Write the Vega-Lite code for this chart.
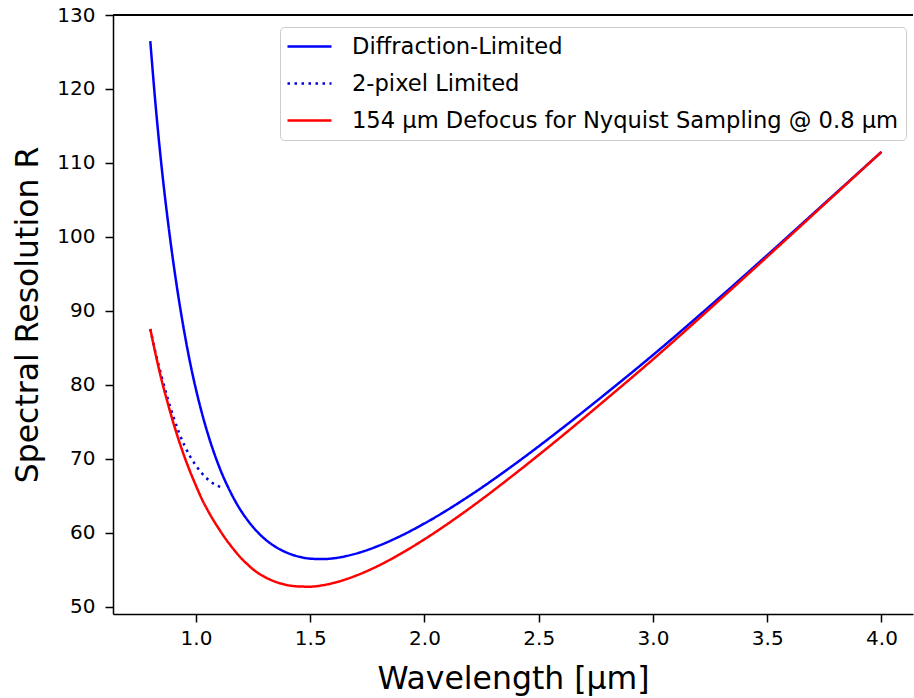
{
  "$schema": "https://vega.github.io/schema/vega-lite/v6.json",
  "width": 800,
  "height": 599,
  "autosize": {"type": "none"},
  "padding": {"left": 113, "top": 15, "right": 1, "bottom": 84},
  "background": "white",
  "config": {
    "view": {"stroke": null},
    "axis": {
      "grid": false,
      "domainColor": "black",
      "domainWidth": 1.5,
      "tickColor": "black",
      "tickWidth": 1.5,
      "tickSize": 8,
      "labelFont": "DejaVu Sans",
      "labelFontSize": 20,
      "labelColor": "black",
      "titleFont": "DejaVu Sans",
      "titleFontSize": 31.5,
      "titleFontWeight": "normal",
      "titleColor": "black"
    }
  },
  "data": {
    "values": [
      {"series": "Diffraction-Limited", "wavelength": 0.80, "R": 126.46},
      {"series": "Diffraction-Limited", "wavelength": 0.825, "R": 117.2},
      {"series": "Diffraction-Limited", "wavelength": 0.85, "R": 109.35},
      {"series": "Diffraction-Limited", "wavelength": 0.875, "R": 102.65},
      {"series": "Diffraction-Limited", "wavelength": 0.90, "R": 96.75},
      {"series": "Diffraction-Limited", "wavelength": 0.925, "R": 91.55},
      {"series": "Diffraction-Limited", "wavelength": 0.95, "R": 86.96},
      {"series": "Diffraction-Limited", "wavelength": 0.975, "R": 82.9},
      {"series": "Diffraction-Limited", "wavelength": 1.00, "R": 79.4},
      {"series": "Diffraction-Limited", "wavelength": 1.025, "R": 76.31},
      {"series": "Diffraction-Limited", "wavelength": 1.05, "R": 73.59},
      {"series": "Diffraction-Limited", "wavelength": 1.075, "R": 71.19},
      {"series": "Diffraction-Limited", "wavelength": 1.10, "R": 69.07},
      {"series": "Diffraction-Limited", "wavelength": 1.125, "R": 67.21},
      {"series": "Diffraction-Limited", "wavelength": 1.15, "R": 65.58},
      {"series": "Diffraction-Limited", "wavelength": 1.175, "R": 64.13},
      {"series": "Diffraction-Limited", "wavelength": 1.20, "R": 62.86},
      {"series": "Diffraction-Limited", "wavelength": 1.225, "R": 61.76},
      {"series": "Diffraction-Limited", "wavelength": 1.25, "R": 60.79},
      {"series": "Diffraction-Limited", "wavelength": 1.275, "R": 59.95},
      {"series": "Diffraction-Limited", "wavelength": 1.30, "R": 59.22},
      {"series": "Diffraction-Limited", "wavelength": 1.35, "R": 58.09},
      {"series": "Diffraction-Limited", "wavelength": 1.40, "R": 57.31},
      {"series": "Diffraction-Limited", "wavelength": 1.45, "R": 56.8},
      {"series": "Diffraction-Limited", "wavelength": 1.50, "R": 56.53},
      {"series": "Diffraction-Limited", "wavelength": 1.55, "R": 56.47},
      {"series": "Diffraction-Limited", "wavelength": 1.60, "R": 56.57},
      {"series": "Diffraction-Limited", "wavelength": 1.70, "R": 57.21},
      {"series": "Diffraction-Limited", "wavelength": 1.80, "R": 58.28},
      {"series": "Diffraction-Limited", "wavelength": 1.90, "R": 59.66},
      {"series": "Diffraction-Limited", "wavelength": 2.00, "R": 61.29},
      {"series": "Diffraction-Limited", "wavelength": 2.20, "R": 65.08},
      {"series": "Diffraction-Limited", "wavelength": 2.40, "R": 69.41},
      {"series": "Diffraction-Limited", "wavelength": 2.60, "R": 74.09},
      {"series": "Diffraction-Limited", "wavelength": 2.80, "R": 78.99},
      {"series": "Diffraction-Limited", "wavelength": 3.00, "R": 84.05},
      {"series": "Diffraction-Limited", "wavelength": 3.25, "R": 90.69},
      {"series": "Diffraction-Limited", "wavelength": 3.50, "R": 97.54},
      {"series": "Diffraction-Limited", "wavelength": 3.75, "R": 104.52},
      {"series": "Diffraction-Limited", "wavelength": 4.00, "R": 111.5},
      {"series": "2-pixel Limited", "wavelength": 0.80, "R": 87.57},
      {"series": "2-pixel Limited", "wavelength": 0.825, "R": 84.1},
      {"series": "2-pixel Limited", "wavelength": 0.85, "R": 81.1},
      {"series": "2-pixel Limited", "wavelength": 0.875, "R": 78.3},
      {"series": "2-pixel Limited", "wavelength": 0.90, "R": 75.8},
      {"series": "2-pixel Limited", "wavelength": 0.925, "R": 73.6},
      {"series": "2-pixel Limited", "wavelength": 0.95, "R": 71.8},
      {"series": "2-pixel Limited", "wavelength": 0.975, "R": 70.3},
      {"series": "2-pixel Limited", "wavelength": 1.00, "R": 69.1},
      {"series": "2-pixel Limited", "wavelength": 1.025, "R": 68.1},
      {"series": "2-pixel Limited", "wavelength": 1.05, "R": 67.3},
      {"series": "2-pixel Limited", "wavelength": 1.075, "R": 66.7},
      {"series": "2-pixel Limited", "wavelength": 1.10, "R": 66.3},
      {"series": "2-pixel Limited", "wavelength": 1.12, "R": 66.05},
      {"series": "154 μm Defocus for Nyquist Sampling @ 0.8 μm", "wavelength": 0.80, "R": 87.57},
      {"series": "154 μm Defocus for Nyquist Sampling @ 0.8 μm", "wavelength": 0.825, "R": 83.92},
      {"series": "154 μm Defocus for Nyquist Sampling @ 0.8 μm", "wavelength": 0.85, "R": 80.59},
      {"series": "154 μm Defocus for Nyquist Sampling @ 0.8 μm", "wavelength": 0.875, "R": 77.71},
      {"series": "154 μm Defocus for Nyquist Sampling @ 0.8 μm", "wavelength": 0.90, "R": 74.98},
      {"series": "154 μm Defocus for Nyquist Sampling @ 0.8 μm", "wavelength": 0.925, "R": 72.51},
      {"series": "154 μm Defocus for Nyquist Sampling @ 0.8 μm", "wavelength": 0.95, "R": 70.26},
      {"series": "154 μm Defocus for Nyquist Sampling @ 0.8 μm", "wavelength": 0.975, "R": 68.23},
      {"series": "154 μm Defocus for Nyquist Sampling @ 0.8 μm", "wavelength": 1.00, "R": 66.38},
      {"series": "154 μm Defocus for Nyquist Sampling @ 0.8 μm", "wavelength": 1.025, "R": 64.63},
      {"series": "154 μm Defocus for Nyquist Sampling @ 0.8 μm", "wavelength": 1.05, "R": 63.14},
      {"series": "154 μm Defocus for Nyquist Sampling @ 0.8 μm", "wavelength": 1.075, "R": 61.79},
      {"series": "154 μm Defocus for Nyquist Sampling @ 0.8 μm", "wavelength": 1.10, "R": 60.57},
      {"series": "154 μm Defocus for Nyquist Sampling @ 0.8 μm", "wavelength": 1.125, "R": 59.41},
      {"series": "154 μm Defocus for Nyquist Sampling @ 0.8 μm", "wavelength": 1.15, "R": 58.37},
      {"series": "154 μm Defocus for Nyquist Sampling @ 0.8 μm", "wavelength": 1.175, "R": 57.4},
      {"series": "154 μm Defocus for Nyquist Sampling @ 0.8 μm", "wavelength": 1.20, "R": 56.51},
      {"series": "154 μm Defocus for Nyquist Sampling @ 0.8 μm", "wavelength": 1.225, "R": 55.77},
      {"series": "154 μm Defocus for Nyquist Sampling @ 0.8 μm", "wavelength": 1.25, "R": 55.08},
      {"series": "154 μm Defocus for Nyquist Sampling @ 0.8 μm", "wavelength": 1.275, "R": 54.52},
      {"series": "154 μm Defocus for Nyquist Sampling @ 0.8 μm", "wavelength": 1.30, "R": 54.07},
      {"series": "154 μm Defocus for Nyquist Sampling @ 0.8 μm", "wavelength": 1.35, "R": 53.38},
      {"series": "154 μm Defocus for Nyquist Sampling @ 0.8 μm", "wavelength": 1.40, "R": 52.95},
      {"series": "154 μm Defocus for Nyquist Sampling @ 0.8 μm", "wavelength": 1.45, "R": 52.77},
      {"series": "154 μm Defocus for Nyquist Sampling @ 0.8 μm", "wavelength": 1.50, "R": 52.74},
      {"series": "154 μm Defocus for Nyquist Sampling @ 0.8 μm", "wavelength": 1.55, "R": 52.91},
      {"series": "154 μm Defocus for Nyquist Sampling @ 0.8 μm", "wavelength": 1.60, "R": 53.23},
      {"series": "154 μm Defocus for Nyquist Sampling @ 0.8 μm", "wavelength": 1.70, "R": 54.23},
      {"series": "154 μm Defocus for Nyquist Sampling @ 0.8 μm", "wavelength": 1.80, "R": 55.6},
      {"series": "154 μm Defocus for Nyquist Sampling @ 0.8 μm", "wavelength": 1.90, "R": 57.27},
      {"series": "154 μm Defocus for Nyquist Sampling @ 0.8 μm", "wavelength": 2.00, "R": 59.15},
      {"series": "154 μm Defocus for Nyquist Sampling @ 0.8 μm", "wavelength": 2.20, "R": 63.39},
      {"series": "154 μm Defocus for Nyquist Sampling @ 0.8 μm", "wavelength": 2.40, "R": 68.09},
      {"series": "154 μm Defocus for Nyquist Sampling @ 0.8 μm", "wavelength": 2.60, "R": 73.05},
      {"series": "154 μm Defocus for Nyquist Sampling @ 0.8 μm", "wavelength": 2.80, "R": 78.2},
      {"series": "154 μm Defocus for Nyquist Sampling @ 0.8 μm", "wavelength": 3.00, "R": 83.46},
      {"series": "154 μm Defocus for Nyquist Sampling @ 0.8 μm", "wavelength": 3.25, "R": 90.33},
      {"series": "154 μm Defocus for Nyquist Sampling @ 0.8 μm", "wavelength": 3.50, "R": 97.34},
      {"series": "154 μm Defocus for Nyquist Sampling @ 0.8 μm", "wavelength": 3.75, "R": 104.42},
      {"series": "154 μm Defocus for Nyquist Sampling @ 0.8 μm", "wavelength": 4.00, "R": 111.5}
    ]
  },
  "layer": [
    {
      "mark": {"type": "line", "interpolate": "monotone", "strokeWidth": 2.5},
      "encoding": {
        "x": {
          "field": "wavelength",
          "type": "quantitative",
          "scale": {"domain": [0.6368, 4.138], "nice": false, "zero": false},
          "axis": {
            "title": "Wavelength [μm]",
            "values": [1, 1.5, 2, 2.5, 3, 3.5, 4],
            "format": ".1f",
            "labelPadding": 6,
            "titlePadding": 15
          }
        },
        "y": {
          "field": "R",
          "type": "quantitative",
          "scale": {"domain": [49.05, 130], "nice": false, "zero": false},
          "axis": {
            "title": "Spectral Resolution R",
            "values": [50, 60, 70, 80, 90, 100, 110, 120, 130],
            "labelPadding": 10,
            "titlePadding": 12
          }
        },
        "color": {
          "field": "series",
          "type": "nominal",
          "scale": {
            "domain": ["Diffraction-Limited", "2-pixel Limited", "154 μm Defocus for Nyquist Sampling @ 0.8 μm"],
            "range": ["#0000ff", "#0000dd", "#ff0000"]
          },
          "legend": {
            "title": null,
            "orient": "none",
            "legendX": 167,
            "legendY": 12,
            "padding": 7,
            "rowPadding": 12,
            "fillColor": "white",
            "strokeColor": "#cccccc",
            "cornerRadius": 4,
            "symbolType": "M-2,0H2",
            "symbolSize": 484,
            "symbolOffset": 10,
            "symbolStrokeWidth": 2.5,
            "labelOffset": 30,
            "labelFont": "DejaVu Sans",
            "labelFontSize": 22.6,
            "labelColor": "black",
            "labelLimit": 800
          }
        },
        "strokeDash": {
          "field": "series",
          "type": "nominal",
          "scale": {
            "domain": ["Diffraction-Limited", "2-pixel Limited", "154 μm Defocus for Nyquist Sampling @ 0.8 μm"],
            "range": [[1, 0], [2.5, 4.5], [1, 0]]
          },
          "legend": null
        },
        "order": {"field": "wavelength", "type": "quantitative"}
      }
    },
    {
      "mark": {"type": "rule", "color": "black", "strokeWidth": 1.5},
      "encoding": {"y": {"datum": 130}}
    }
  ]
}
